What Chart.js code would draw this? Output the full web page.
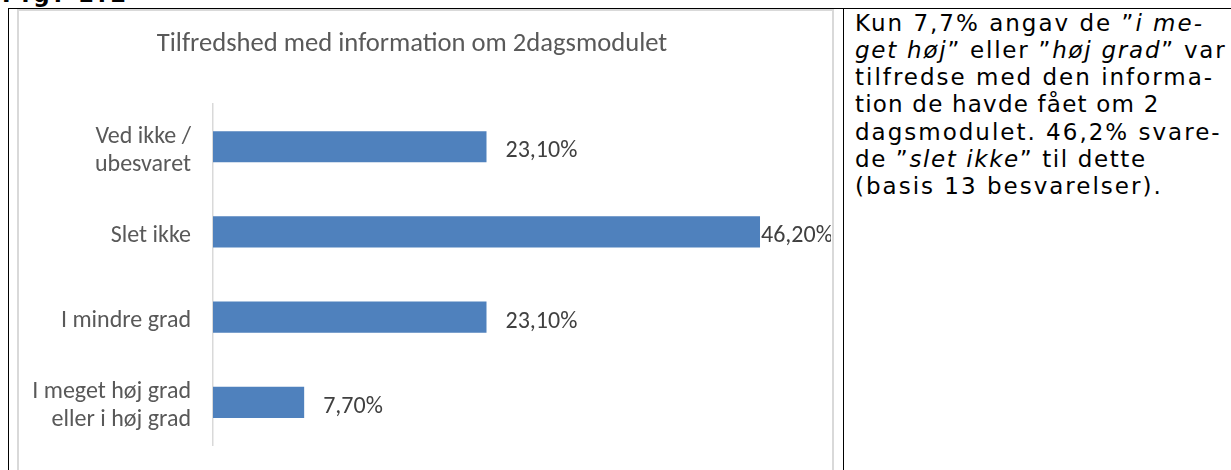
<!DOCTYPE html>
<html>
<head>
<meta charset="utf-8">
<script src="https://cdn.jsdelivr.net/npm/chart.js@4/dist/chart.umd.min.js"></script>
<style>
  html, body { margin:0; padding:0; background:#fff; width:1231px; height:470px; overflow:hidden; }
  #fig { position:absolute; left:2px; top:-19px; font-family:"DejaVu Sans", Verdana, sans-serif; font-weight:bold; font-size:23px; color:#000; letter-spacing:3.8px; white-space:nowrap; }
  #topline { position:absolute; left:8px; top:8px; width:1223px; height:0; border-top:1px solid #000; }
  #leftline { position:absolute; left:8px; top:8px; width:0; height:462px; border-left:1px solid #000; }
  #divline { position:absolute; left:843px; top:8px; width:0; height:462px; border-left:1.5px solid #000; }
  #frame { position:absolute; left:17px; top:9px; width:813px; height:470px; border:2px solid #d9d9d9; border-bottom:none; }
  #wrap { position:absolute; left:19px; top:11px; width:812px; height:459px; }
  #note { position:absolute; left:855px; top:9.5px; width:376px; font-family:"DejaVu Sans", Verdana, sans-serif; font-size:23px; line-height:27.3px; letter-spacing:2px; color:#000; white-space:nowrap; }
  #note span { display:block; }
</style>
</head>
<body>
<div id="fig">Fig. 1.2</div>
<div id="frame"></div>
<div id="topline"></div>
<div id="leftline"></div>
<div id="divline"></div>
<div id="wrap"><canvas id="c" width="812" height="459"></canvas></div>
<div id="note"><span>Kun 7,7% angav de ”<i>i me-</i></span><span style="letter-spacing:1.75px"><i>get høj</i>” eller ”<i>høj grad</i>” var</span><span>tilfredse med den informa-</span><span style="letter-spacing:1.2px">tion de havde fået om 2</span><span>dagsmodulet. 46,2% svare-</span><span style="letter-spacing:1.6px">de ”<i>slet ikke</i>” til dette</span><span>(basis 13 besvarelser).</span></div>
<script>
const chartTitle = "Tilfredshed med information om 2dagsmodulet";
const categories = [["Ved ikke /", "ubesvaret"], "Slet ikke", "I mindre grad", ["I meget høj grad", "eller i høj grad"]];
const values = [23.1, 46.2, 23.1, 7.7];
const axisMax = 50;

const FONT = "Carlito, Lato, sans-serif";
const fmt = v => v.toFixed(2).replace('.', ',') + '%';

const valueLabels = {
  id: 'valueLabels',
  afterDatasetsDraw(chart) {
    const ctx = chart.ctx;
    const meta = chart.getDatasetMeta(0);
    ctx.save();
    ctx.font = "24px " + FONT;
    ctx.fillStyle = "#404040";
    ctx.textBaseline = "middle";
    ctx.textAlign = "left";
    meta.data.forEach((el, i) => {
      const txt = fmt(values[i]);
      const w = ctx.measureText(txt).width;
      let x = el.x + 19;
      if (x + w > chart.width - 1) x = el.x + 1;
      ctx.fillText(txt, x, el.y + 4.5);
    });
    ctx.restore();
  }
};

new Chart(document.getElementById('c'), {
  type: 'bar',
  data: {
    labels: categories,
    datasets: [{
      data: values,
      backgroundColor: '#4f81bd',
      borderWidth: 0,
      categoryPercentage: 1,
      barPercentage: 0.364
    }]
  },
  options: {
    indexAxis: 'y',
    responsive: false,
    maintainAspectRatio: false,
    animation: false,
    devicePixelRatio: 1,
    layout: { padding: { left: 0, right: 26, top: 0, bottom: 25 } },
    plugins: {
      legend: { display: false },
      tooltip: { enabled: false },
      title: {
        display: true,
        text: chartTitle,
        color: '#595959',
        font: { family: FONT, size: 26.6, weight: 'normal', lineHeight: 1.2 },
        padding: { top: 17, bottom: 44.1 }
      }
    },
    scales: {
      x: { display: false, min: 0, max: axisMax },
      y: {
        grid: { display: false, drawTicks: false },
        border: { display: true, color: '#d9d9d9', width: 1.5 },
        ticks: {
          color: '#595959',
          font: { family: FONT, size: 24, lineHeight: 1.167 },
          padding: 22,
          labelOffset: 4
        },
        afterFit(scale) {
          scale.width = 194;
          scale.paddingTop = 0;
          scale.paddingBottom = 0;
        }
      }
    }
  },
  plugins: [valueLabels]
});
</script>
</body>
</html>
